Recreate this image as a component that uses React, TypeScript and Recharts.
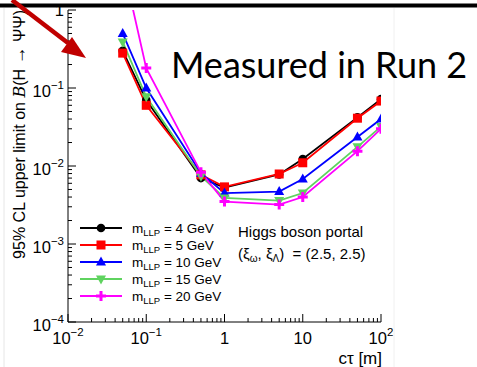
import React from 'react';
import { LineChart, Line, XAxis, YAxis, Legend } from 'recharts';

// ---------- data ----------
const ctau = [0.05, 0.1, 0.5, 1, 5, 10, 50, 100];
const limitM4 = [0.30, 0.070, 0.0070, 0.0053, 0.0078, 0.0123, 0.042, 0.072];
const limitM5 = [0.28, 0.060, 0.0077, 0.0054, 0.0079, 0.0110, 0.041, 0.068];
const limitM10 = [0.50, 0.100, 0.0081, 0.0045, 0.0047, 0.0068, 0.0235, 0.040];
const limitM15 = [0.39, 0.077, 0.0074, 0.0039, 0.0036, 0.0045, 0.0176, 0.032];
const limitM20 = [3.9, 0.18, 0.0083, 0.0035, 0.0032, 0.0040, 0.0155, 0.030];

const seriesKeys = ['m4', 'm5', 'm10', 'm15', 'm20'];
const massLabels = ['4', '5', '10', '15', '20'];
const seriesColors = ['#000000', '#ff0000', '#0000ff', '#5fd35f', '#ff00ff'];
const markerShapes = ['circle', 'square', 'triangleUp', 'triangleDown', 'cross'];

const xMajorTicks = [0.01, 0.1, 1, 10, 100];
const xTickLabels = [['10', '\u22122'], ['10', '\u22121'], ['1', ''], ['10', ''], ['10', '2']];
const yMajorTicks = [1e-4, 1e-3, 1e-2, 1e-1, 1];
const yTickLabels = [['10', '\u22124'], ['10', '\u22123'], ['10', '\u22122'], ['10', '\u22121'], ['1', '']];
const minorMultipliers = [2, 3, 4, 5, 6, 7, 8, 9];

const xTitle = 'c\u03c4 [m]';
const yTitleMain = '95% CL upper limit on ';
const overlayTitle = 'Measured in Run 2';
const noteLine1 = 'Higgs boson portal';

// ---------- derived ----------
const seriesValues = [limitM4, limitM5, limitM10, limitM15, limitM20];
const rows = ctau.map((c, i) => {
  const r: any = { ctau: c };
  seriesKeys.forEach((k, s) => { r[k] = seriesValues[s][i]; });
  return r;
});
const withMinors = (majors: number[]) => {
  const out: number[] = [...majors];
  for (let i = 0; i < majors.length - 1; i++) minorMultipliers.forEach((m) => out.push(majors[i] * m));
  return out.sort((a, b) => a - b);
};
const xTicks = withMinors(xMajorTicks);
const yTicks = withMinors(yMajorTicks);
const majorIndex = (majors: number[], v: number) =>
  majors.findIndex((t) => Math.abs(Math.log10(t) - Math.log10(v)) < 1e-6);

const FONT = "'Liberation Sans', Arial, Helvetica, sans-serif";

function Marker({ shape, cx, cy, color }: any) {
  if (cx == null || cy == null) return null;
  switch (shape) {
    case 'circle':
      return <circle cx={cx} cy={cy} r={4.3} fill={color} />;
    case 'square':
      return <rect x={cx - 4.5} y={cy - 4.5} width={9} height={9} fill={color} />;
    case 'triangleUp':
      return <polygon points={`${cx},${cy - 5.5} ${cx + 5},${cy + 3.5} ${cx - 5},${cy + 3.5}`} fill={color} />;
    case 'triangleDown':
      return <polygon points={`${cx},${cy + 5.5} ${cx + 5},${cy - 3.5} ${cx - 5},${cy - 3.5}`} fill={color} />;
    default: {
      const a = 5, t = 1.5;
      const pts = [
        [-t, -a], [t, -a], [t, -t], [a, -t], [a, t], [t, t], [t, a], [-t, a], [-t, t], [-a, t], [-a, -t], [-t, -t],
      ].map(([dx, dy]) => `${cx + dx},${cy + dy}`).join(' ');
      return <polygon points={pts} fill={color} />;
    }
  }
}

const SupLabel = ({ x, y, anchor, main, sup, size }: any) => (
  <text x={x} y={y} textAnchor={anchor} fontSize={size} fontFamily={FONT} fill="#000">
    <tspan>{main}</tspan>
    {sup ? <tspan dy={-8} fontSize={11.5}>{sup}</tspan> : null}
  </text>
);

const makeXTick = (side: 'bottom' | 'top') => (props: any) => {
  const { x, y, payload } = props;
  const mi = majorIndex(xMajorTicks, payload.value);
  const len = mi >= 0 ? 8 : 4;
  const dir = side === 'bottom' ? -1 : 1;
  return (
    <g>
      <line x1={x} y1={y} x2={x} y2={y + dir * len} stroke="#000" strokeWidth={1} />
      {side === 'bottom' && mi >= 0 ? (
        <SupLabel x={x} y={y + 22} anchor="middle" main={xTickLabels[mi][0]} sup={xTickLabels[mi][1]} size={16.5} />
      ) : null}
    </g>
  );
};

const makeYTick = (side: 'left' | 'right') => (props: any) => {
  const { x, y, payload } = props;
  const mi = majorIndex(yMajorTicks, payload.value);
  const len = mi >= 0 ? 8 : 4;
  const dir = side === 'left' ? 1 : -1;
  return (
    <g>
      <line x1={x} y1={y} x2={x + dir * len} y2={y} stroke="#000" strokeWidth={1} />
      {side === 'left' && mi >= 0 ? (
        <SupLabel x={x - 4} y={y + (yTickLabels[mi][1] ? 9 : 6)} anchor="end" main={yTickLabels[mi][0]} sup={yTickLabels[mi][1]} size={16.5} />
      ) : null}
    </g>
  );
};

const LegendContent = () => (
  <svg width={170} height={90} style={{ overflow: 'visible' }}>
    {seriesKeys.map((k, i) => {
      const cy = 10 + i * 17;
      return (
        <g key={k}>
          <line x1={4} y1={cy} x2={46} y2={cy} stroke={seriesColors[i]} strokeWidth={1.8} />
          <Marker shape={markerShapes[i]} cx={25} cy={cy} color={seriesColors[i]} />
          <text x={56} y={cy + 5} fontSize={13.5} fontFamily={FONT} fill="#000">
            <tspan>m</tspan>
            <tspan dy={3} fontSize={9.5}>LLP</tspan>
            <tspan dy={-3}>{` = ${massLabels[i]} GeV`}</tspan>
          </text>
        </g>
      );
    })}
  </svg>
);

export default function App() {
  return (
    <div style={{ position: 'absolute', left: 0, top: 0, width: 477, height: 367, background: '#fff', overflow: 'hidden' }}>
      <LineChart width={477} height={367} data={rows} margin={{ top: 10, right: 96, bottom: 0, left: 0 }}>
        <XAxis
          dataKey="ctau" type="number" scale="log" domain={[0.01, 100]} allowDataOverflow
          ticks={xTicks} interval={0} tickLine={false} tickSize={0} tickMargin={0}
          axisLine={{ stroke: '#000', strokeWidth: 1 }} height={45} tick={makeXTick('bottom')}
        />
        <XAxis
          xAxisId="top" orientation="top" dataKey="ctau" type="number" scale="log" domain={[0.01, 100]} allowDataOverflow
          ticks={xTicks} interval={0} tickLine={false} tickSize={0} tickMargin={0}
          axisLine={{ stroke: '#000', strokeWidth: 1 }} height={0} tick={makeXTick('top')}
        />
        <YAxis
          type="number" scale="log" domain={[1e-4, 1]} allowDataOverflow
          ticks={yTicks} interval={0} tickLine={false} tickSize={0} tickMargin={0}
          axisLine={{ stroke: '#000', strokeWidth: 1 }} width={68} tick={makeYTick('left')}
        />
        <YAxis
          yAxisId="right" orientation="right" type="number" scale="log" domain={[1e-4, 1]} allowDataOverflow
          ticks={yTicks} interval={0} tickLine={false} tickSize={0} tickMargin={0}
          axisLine={{ stroke: '#000', strokeWidth: 1 }} width={0} tick={makeYTick('right')}
        />
        {seriesKeys.map((k, i) => (
          <Line
            key={k} dataKey={k} stroke={seriesColors[i]} strokeWidth={1.8} isAnimationActive={false}
            dot={(p: any) => <Marker key={`${k}-${p.index}`} shape={markerShapes[i]} cx={p.cx} cy={p.cy} color={seriesColors[i]} />}
            activeDot={false}
          />
        ))}
        <Legend
          layout="vertical" align="center" verticalAlign="middle"
          wrapperStyle={{ left: 76, top: 218, width: 170, height: 90 }}
          content={() => <LegendContent />}
        />
      </LineChart>
      <svg width={477} height={367} style={{ position: 'absolute', left: 0, top: 0, pointerEvents: 'none' }}>
        <line x1={4} y1={8} x2={4} y2={367} stroke="#e6e6e6" strokeWidth={1} />
        <line x1={394} y1={8} x2={394} y2={367} stroke="#f0f0f0" strokeWidth={1} />
        <rect x={0} y={3.5} width={477} height={4} fill="#000" />
        <text x={-10} y={25} transform="rotate(-90)" textAnchor="end" fontSize={16} fontFamily={FONT} fill="#000">
          <tspan>{yTitleMain}</tspan>
          <tspan fontFamily="'DejaVu Serif', serif" fontStyle="italic">B</tspan>
          <tspan>(H </tspan>
          <tspan fontSize={18}>{'\u2192'}</tspan>
          <tspan> {'\u03a8\u03a8'})</tspan>
        </text>
        <text x={382} y={363.5} textAnchor="end" fontSize={17} fontFamily={FONT} fill="#000">{xTitle}</text>
        <text x={238} y={237} fontSize={15} fontFamily={FONT} fill="#000">{noteLine1}</text>
        <text x={238} y={259} fontSize={15} fontFamily={FONT} fill="#000" style={{ whiteSpace: 'pre' }}>
          <tspan>({'\u03be'}</tspan>
          <tspan dy={3} fontSize={10}>{'\u03c9'}</tspan>
          <tspan dy={-3}>, {'\u03be'}</tspan>
          <tspan dy={3} fontSize={10}>{'\u039b'}</tspan>
          <tspan dy={-3}>{')  = (2.5, 2.5)'}</tspan>
        </text>
        <text x={171} y={78} fontSize={36} fontFamily="Lato, sans-serif" fill="#000">{overlayTitle}</text>
        <line x1={12} y1={0} x2={68} y2={43} stroke="#c00000" strokeWidth={4.5} />
        <polygon points="86,58 72,37 61,52" fill="#c00000" />
      </svg>
    </div>
  );
}
